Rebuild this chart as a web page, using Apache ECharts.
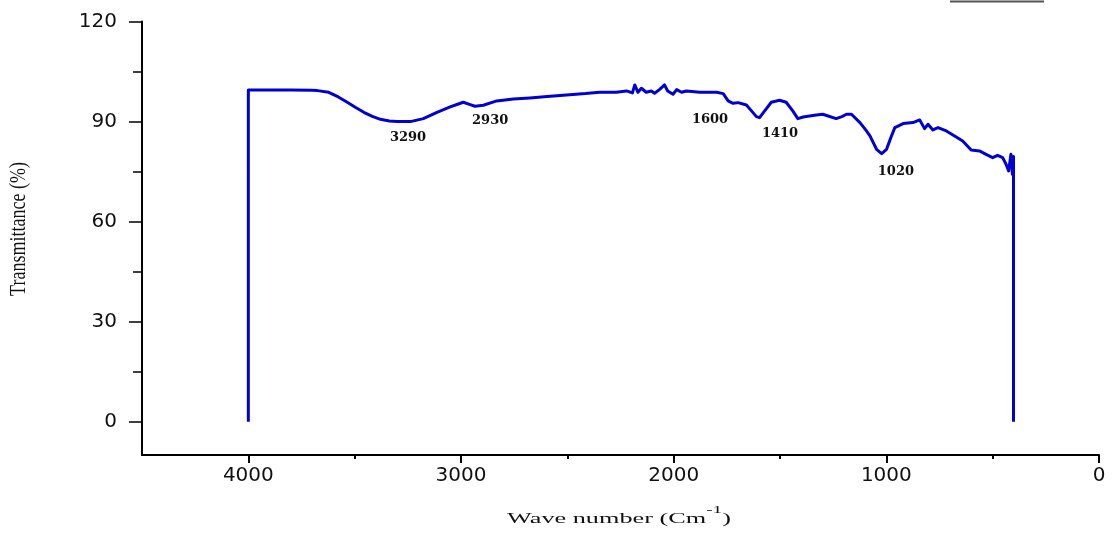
<!DOCTYPE html>
<html>
<head>
<meta charset="utf-8">
<style>
html,body{margin:0;padding:0;background:#fff;}
#chart{width:1116px;height:534px;}
</style>
<script src="https://cdn.jsdelivr.net/npm/echarts@6/dist/echarts.min.js"></script>
</head>
<body>
<div id="chart"></div>
<script>
// Spectrum: wave number (cm^-1) and transmittance (%)
const waveNumber = [4000,4000,3900,3800,3700,3675,3622,3577,3535,3497,3457,3417,3379,3337,3300,3238,3177,3113,3051,3016,2989,2957,2934,2895,2832,2754,2676,2595,2504,2415,2348,2270,2222,2194,2183,2168,2152,2129,2105,2090,2067,2043,2028,2003,1986,1963,1940,1877,1798,1767,1744,1721,1697,1658,1631,1611,1596,1572,1541,1502,1471,1440,1416,1391,1361,1329,1299,1270,1236,1209,1187,1164,1124,1097,1077,1046,1022,999,977,960,921,875,843,820,804,781,757,718,677,641,601,562,531,500,477,453,437,425,414,407,402,402];
const transmittance = [0,99.5,99.5,99.5,99.4,99.3,98.8,97.4,95.8,94.3,92.8,91.6,90.7,90.2,90.0,90.0,90.9,92.8,94.4,95.2,95.8,95.1,94.6,94.9,96.2,96.8,97.1,97.5,98.0,98.4,98.8,98.8,99.2,98.6,101.0,98.8,100.0,98.8,99.2,98.5,99.6,101.0,99.2,98.2,99.6,98.8,99.2,98.8,98.8,98.4,96.2,95.5,95.7,95.0,93.0,91.5,91.2,93.2,95.8,96.4,95.8,93.2,90.9,91.4,91.7,92.0,92.2,91.6,90.9,91.5,92.2,92.2,89.7,87.5,85.7,81.7,80.4,81.7,85.5,88.2,89.4,89.7,90.5,87.9,89.2,87.5,88.2,87.2,85.6,84.2,81.5,81.2,80.2,79.2,79.9,79.2,77.2,75.2,80.2,74.2,79.5,0];

// Peak annotations
const peakLabels = ['3290','2930','1600','1410','1020'];
const peakLabelX = [3249,2863,1829,1500,955];
const peakLabelY = [85.3,90.4,90.7,86.5,75.1];

// Axis ticks
const xMajorTicks = [0,1000,2000,3000,4000];
const xMinorTicks = [500,1500,2500,3500];
const yMajorTicks = [0,30,60,90,120];
const yMinorTicks = [15,45,75,105];

const xTitle = 'Wave number (Cm';
const xTitleSup = '-1';
const yTitle = 'Transmittance (%)';

const seriesData = waveNumber.map((w,i)=>[w, transmittance[i]]);
const markData = peakLabels.map((t,i)=>({coord:[peakLabelX[i], peakLabelY[i]], value:t}));

const chart = echarts.init(document.getElementById('chart'));
const labelFont = {fontFamily:'DejaVu Sans', fontSize:20, color:'#111', formatter:v=>String(v)};
chart.setOption({
  animation:false,
  backgroundColor:'#fff',
  grid:{left:142, right:17, top:21.6, bottom:79, containLabel:false},
  xAxis:[{
    type:'value', inverse:true, min:0, max:4500, position:'bottom',
    axisLine:{show:true, onZero:false, lineStyle:{color:'#000', width:2}},
    axisTick:{show:true, customValues:xMajorTicks, length:8, lineStyle:{color:'#000', width:2}},
    axisLabel:Object.assign({customValues:xMajorTicks, margin:11}, labelFont),
    splitLine:{show:false}
  },{
    type:'value', inverse:true, min:0, max:4500, position:'bottom',
    axisLine:{show:false, onZero:false},
    axisTick:{show:true, customValues:xMinorTicks, length:4, lineStyle:{color:'#000', width:2}},
    axisLabel:{show:false},
    splitLine:{show:false}
  }],
  yAxis:[{
    type:'value', min:-10, max:120, position:'left',
    axisLine:{show:true, onZero:false, lineStyle:{color:'#000', width:2}},
    axisTick:{show:true, customValues:yMajorTicks, length:13, lineStyle:{color:'#000', width:1.5}},
    axisLabel:Object.assign({customValues:yMajorTicks, margin:25}, labelFont),
    splitLine:{show:false}
  },{
    type:'value', min:-10, max:120, position:'left',
    axisLine:{show:false, onZero:false},
    axisTick:{show:true, customValues:yMinorTicks, length:9, lineStyle:{color:'#000', width:1.5}},
    axisLabel:{show:false},
    splitLine:{show:false}
  }],
  series:[{
    type:'line', xAxisIndex:0, yAxisIndex:0,
    data:seriesData, showSymbol:false, symbol:'none',
    lineStyle:{color:'#0000d2', width:3, join:'round'},
    markPoint:{
      symbol:'circle', symbolSize:1,
      itemStyle:{color:'rgba(0,0,0,0)'},
      label:{show:true, position:'inside', formatter:p=>p.value,
        fontFamily:'DejaVu Serif', fontWeight:'bold', fontSize:13, color:'#111'},
      data:markData
    }
  }],
  graphic:[
    {type:'text', x:619, y:516, scaleX:1.75, z:10,
     style:{text:'{a|'+xTitle+'}{s|'+xTitleSup+'}{a|)}', align:'center', verticalAlign:'middle',
       rich:{
         a:{fontFamily:'Liberation Serif', fontSize:15, lineHeight:22, verticalAlign:'bottom', fill:'#111'},
         s:{fontFamily:'Liberation Serif', fontSize:11, lineHeight:12, verticalAlign:'top', fill:'#111'}
       }}},
    {type:'text', x:19, y:229, rotation:Math.PI/2, scaleY:1.25, z:10,
     style:{text:yTitle, fontFamily:'Liberation Serif', fontSize:18, fill:'#111', align:'center', verticalAlign:'middle'}},
    {type:'line', shape:{x1:950, y1:1.5, x2:1044, y2:1.5}, style:{stroke:'#555', lineWidth:2}}
  ]
});
</script>
</body>
</html>
